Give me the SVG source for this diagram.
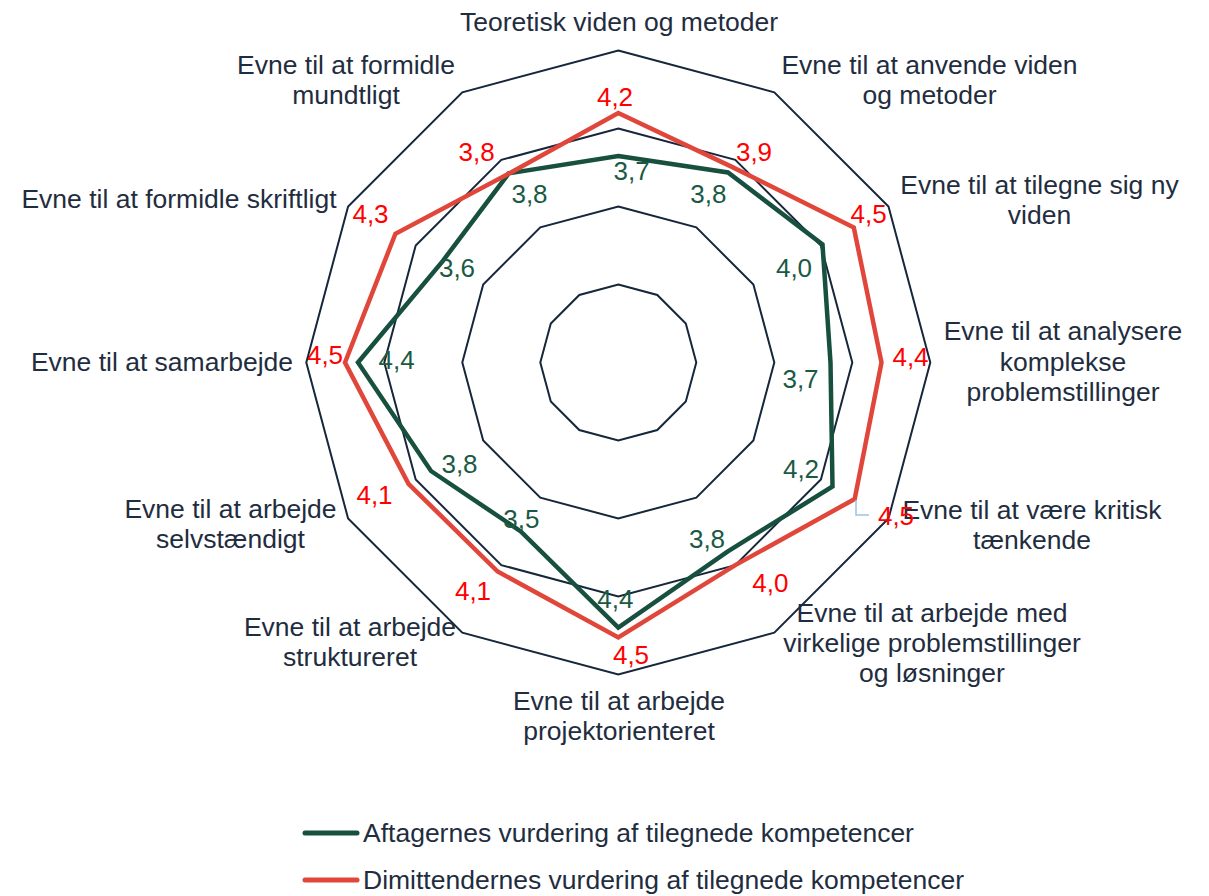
<svg xmlns="http://www.w3.org/2000/svg" width="1209" height="896" viewBox="0 0 1209 896">
<style>
  text { font-family: "Liberation Sans", Arial, sans-serif; }
  .axl { font-size: 26.5px; fill: #1f2d40; text-anchor: middle; }
  .leg { font-size: 26.5px; fill: #1f2d40; }
  .vr { font-size: 26px; fill: #ff0000; text-anchor: middle; }
  .vg { font-size: 26px; fill: #1a5a45; text-anchor: middle; }
  .ring { fill: none; stroke: #16263b; stroke-width: 2; }
  .sg { fill: none; stroke: #17503f; stroke-width: 4.5; stroke-linejoin: miter; }
  .sr { fill: none; stroke: #e0473a; stroke-width: 4.5; stroke-linejoin: miter; }
</style>
<rect x="0" y="0" width="1209" height="896" fill="#ffffff"/>
<g id="grid">
  <polygon class="ring" points="618.3,284.5 657.3,295 685.8,323.5 696.3,362.5 685.8,401.5 657.3,430 618.3,440.5 579.3,430 550.8,401.5 540.3,362.5 550.8,323.5 579.3,295"/>
  <polygon class="ring" points="618.3,206.5 696.3,227.4 753.4,284.5 774.3,362.5 753.4,440.5 696.3,497.6 618.3,518.5 540.3,497.6 483.2,440.5 462.3,362.5 483.2,284.5 540.3,227.4"/>
  <polygon class="ring" points="618.3,128.5 735.3,159.9 820.9,245.5 852.3,362.5 820.9,479.5 735.3,565.1 618.3,596.5 501.3,565.1 415.7,479.5 384.3,362.5 415.7,245.5 501.3,159.9"/>
  <polygon class="ring" points="618.3,50.5 774.3,92.3 888.5,206.5 930.3,362.5 888.5,518.5 774.3,632.7 618.3,674.5 462.3,632.7 348.1,518.5 306.3,362.5 348.1,206.5 462.3,92.3"/>
</g>
<g id="connectors">
  <polygon id="series-aftagere" class="sg" points="618.3,156 728,172.5 822.5,244.5 830.5,362.5 832.5,486.5 727.5,551.6 618.3,627.5 520.8,531.4 431,471 358,362.5 442.7,261.1 508.7,173.4"/>
  <polygon id="series-dimittender" class="sr" points="618.3,113 731.4,166.6 853.8,227.5 881.5,362.5 854.7,499 735.3,565.1 618.3,637.5 497.6,571.5 408.5,483.8 345,362.5 395.4,233.8 509.1,173.4"/>
  <polyline id="leader" points="856,500 856,515 869,515" fill="none" stroke="#9dc3e6" stroke-width="1.5"/>
</g>
<g id="axis-labels">
  <g id="ax1"><text class="axl" x="619" y="31">Teoretisk viden og metoder</text></g>
  <g id="ax2"><text class="axl" x="929.5" y="74"><tspan x="929.5">Evne til at anvende viden</tspan><tspan x="929.5" dy="30">og metoder</tspan></text></g>
  <g id="ax3"><text class="axl" x="1039.5" y="194"><tspan x="1039.5">Evne til at tilegne sig ny</tspan><tspan x="1039.5" dy="30">viden</tspan></text></g>
  <g id="ax4"><text class="axl" x="1063" y="340"><tspan x="1063">Evne til at analysere</tspan><tspan x="1063" dy="30.5">komplekse</tspan><tspan x="1063" dy="30.5">problemstillinger</tspan></text></g>
  <g id="ax5"><text class="axl" x="1032" y="519"><tspan x="1032">Evne til at være kritisk</tspan><tspan x="1032" dy="30">tænkende</tspan></text></g>
  <g id="ax6"><text class="axl" x="932" y="622"><tspan x="932">Evne til at arbejde med</tspan><tspan x="932" dy="30">virkelige problemstillinger</tspan><tspan x="932" dy="30">og løsninger</tspan></text></g>
  <g id="ax7"><text class="axl" x="619" y="710"><tspan x="619">Evne til at arbejde</tspan><tspan x="619" dy="30">projektorienteret</tspan></text></g>
  <g id="ax8"><text class="axl" x="350" y="636"><tspan x="350">Evne til at arbejde</tspan><tspan x="350" dy="30">struktureret</tspan></text></g>
  <g id="ax9"><text class="axl" x="230.5" y="518"><tspan x="230.5">Evne til at arbejde</tspan><tspan x="230.5" dy="30">selvstændigt</tspan></text></g>
  <g id="ax10"><text class="axl" x="162" y="371">Evne til at samarbejde</text></g>
  <g id="ax11"><text class="axl" x="179" y="208">Evne til at formidle skriftligt</text></g>
  <g id="ax12"><text class="axl" x="346" y="74"><tspan x="346">Evne til at formidle</tspan><tspan x="346" dy="30">mundtligt</tspan></text></g>
</g>
<g id="values-dimittender">
  <text class="vr" x="615" y="106">4,2</text>
  <text class="vr" x="754" y="161">3,9</text>
  <text class="vr" x="868.7" y="223">4,5</text>
  <text class="vr" x="910.5" y="366">4,4</text>
  <text class="vr" x="896" y="525">4,5</text>
  <text class="vr" x="770.4" y="592">4,0</text>
  <text class="vr" x="631" y="664">4,5</text>
  <text class="vr" x="473" y="600">4,1</text>
  <text class="vr" x="374.5" y="504">4,1</text>
  <text class="vr" x="325" y="364">4,5</text>
  <text class="vr" x="370.5" y="223">4,3</text>
  <text class="vr" x="476.7" y="161">3,8</text>
</g>
<g id="values-aftagere">
  <text class="vg" x="631.7" y="180">3,7</text>
  <text class="vg" x="708.3" y="203">3,8</text>
  <text class="vg" x="794" y="277">4,0</text>
  <text class="vg" x="800.5" y="388">3,7</text>
  <text class="vg" x="801" y="478">4,2</text>
  <text class="vg" x="707" y="548">3,8</text>
  <text class="vg" x="615.3" y="608">4,4</text>
  <text class="vg" x="521.3" y="528">3,5</text>
  <text class="vg" x="459.5" y="473">3,8</text>
  <text class="vg" x="396.7" y="369">4,4</text>
  <text class="vg" x="457" y="277">3,6</text>
  <text class="vg" x="529.5" y="203">3,8</text>
</g>
<g id="legend">
  <line x1="305" y1="833" x2="357" y2="833" stroke="#17503f" stroke-width="5" stroke-linecap="round"/>
  <text class="leg" x="363" y="842">Aftagernes vurdering af tilegnede kompetencer</text>
  <line x1="305" y1="880" x2="357" y2="880" stroke="#e0473a" stroke-width="5" stroke-linecap="round"/>
  <text class="leg" x="363" y="889">Dimittendernes vurdering af tilegnede kompetencer</text>
</g>
</svg>
